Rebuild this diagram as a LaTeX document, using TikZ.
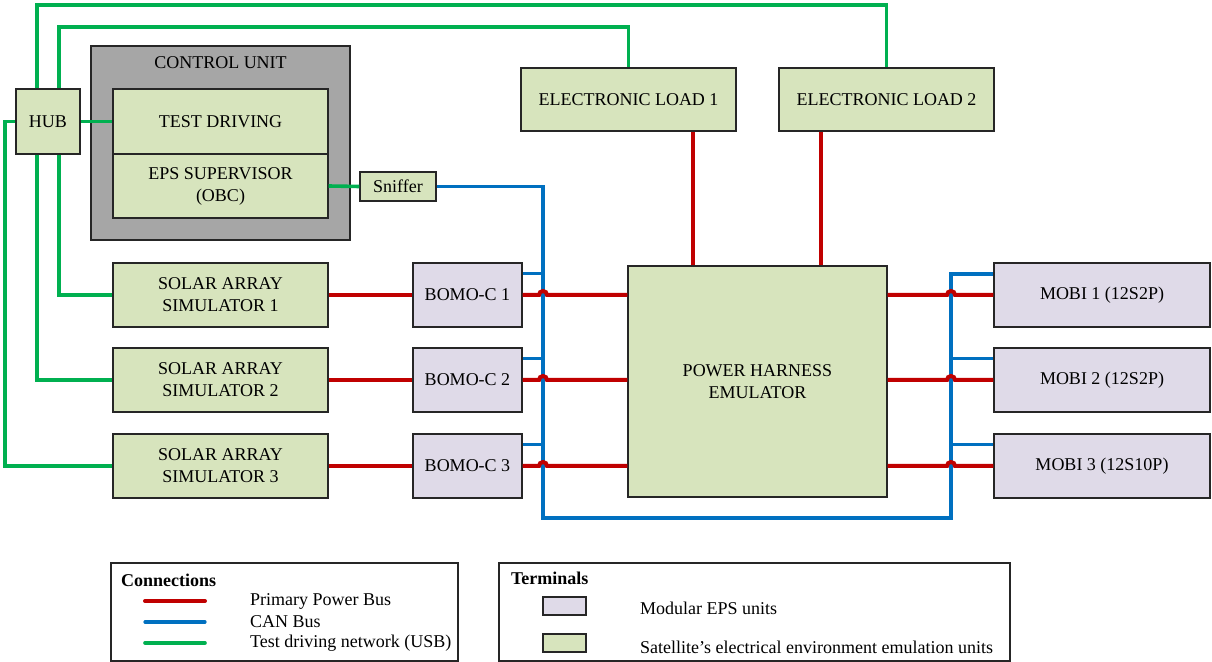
\documentclass[tikz,border=0pt]{standalone}
\usepackage{fontspec}
\setmainfont{Liberation Serif}
\usepackage{tikz}
\usetikzlibrary{positioning, calc}
\usepackage{xcolor}

\definecolor{envgreen}{HTML}{D7E4BD}
\definecolor{modlilac}{HTML}{DFDAE8}
\definecolor{cugray}{HTML}{A6A6A6}
\definecolor{pwrred}{HTML}{C00000}
\definecolor{canblue}{HTML}{0070C0}
\definecolor{usbgreen}{HTML}{00B050}

\tikzset{
  unitbox/.style={draw=black!85, line width=0.6pt, inner sep=0pt, align=center,
                  font=\fontsize{9}{11}\selectfont, minimum width=107.5pt, minimum height=32pt},
  envbox/.style={unitbox, fill=envgreen},
  modbox/.style={unitbox, fill=modlilac},
  power/.style={pwrred, line width=2pt},
  can/.style={canblue, line width=1.6pt},
  usb/.style={usbgreen, line width=1.8pt}
}

\begin{document}
\begin{tikzpicture}[x=0.5pt,y=-0.5pt]
  \useasboundingbox (0,0) rectangle (1212,662);

  % control unit
  \node[draw=black!85, line width=0.7pt, fill=cugray, minimum width=129.5pt, minimum height=97pt] (cu) at (220.5,143) {};
  \node[font=\fontsize{9}{11}\selectfont] at (220.5,63) {CONTROL UNIT};
  \node[envbox, minimum height=32.5pt] (td) at (220.5,121.5) {TEST DRIVING};
  \node[envbox] (eps) at (220.5,186) {EPS SUPERVISOR\\(OBC)};

  \node[envbox, minimum width=32pt, minimum height=32.5pt] (hub) at (48,121.5) {HUB};
  \node[envbox, minimum width=38pt, minimum height=14.5pt] (sniffer) at (398,186.5) {Sniffer};

  \node[envbox, minimum height=31.5pt] (el1) at (628.5,99.5) {ELECTRONIC LOAD 1};
  \node[envbox, minimum height=31.5pt] (el2) at (886.5,99.5) {ELECTRONIC LOAD 2};

  \node[envbox] (sas1) at (220.5,295) {SOLAR ARRAY\\SIMULATOR 1};
  \node[envbox] (sas2) at (220.5,380) {SOLAR ARRAY\\SIMULATOR 2};
  \node[envbox] (sas3) at (220.5,466) {SOLAR ARRAY\\SIMULATOR 3};

  \node[modbox, minimum width=54.5pt] (bomo1) at (467.5,295) {BOMO-C 1};
  \node[modbox, minimum width=54.5pt] (bomo2) at (467.5,380) {BOMO-C 2};
  \node[modbox, minimum width=54.5pt] (bomo3) at (467.5,466) {BOMO-C 3};

  \node[envbox, minimum width=129.5pt, minimum height=115.5pt] (phe) at (757.5,381.5) {POWER HARNESS\\EMULATOR};

  \node[modbox, minimum width=108pt] (mobi1) at (1102,295) {MOBI 1 (12S2P)};
  \node[modbox, minimum width=108pt] (mobi2) at (1102,380) {MOBI 2 (12S2P)};
  \node[modbox, minimum width=108pt] (mobi3) at (1102,466) {MOBI 3 (12S10P)};

  % test driving network
  \coordinate (g1) at (37,5);
  \coordinate (g2) at (59,27);
  \coordinate (g3) at (5,121.5);
  \draw[usb] (hub.north -| g1) -- (g1) -| (el2.north);
  \draw[usb] (hub.north -| g2) -- (g2) -| (el1.north);
  \draw[usb] (hub.south -| g1) |- (sas2.west);
  \draw[usb] (hub.south -| g2) |- (sas1.west);
  \draw[usb] (hub.west) -- (g3) |- (sas3.west);
  \draw[usb] (hub.east) -- (td.west);
  \draw[usb] (eps.east) -- (sniffer.west);

  % CAN bus
  \coordinate (canL) at (543,186.5);
  \coordinate (canLB) at (543,518);
  \coordinate (canRB) at (951,518);
  \coordinate (canR) at (951,274);
  \draw[can] (sniffer.east) -- (canL) -- (canLB) -- (canRB) -- (canR) -- (mobi1.west |- canR);
  \foreach \b in {bomo1,bomo2,bomo3}
    \draw[can] ($(\b.north east)+(0,11)$) -- (canL |- {$(\b.north east)+(0,11)$});
  \foreach \m in {mobi2,mobi3}
    \draw[can] ($(\m.north west)+(0,11)$) -- (canR |- {$(\m.north west)+(0,11)$});

  % primary power bus
  \foreach \i in {1,2,3} {
    \draw[power] (sas\i.east) -- (bomo\i.west);
    \draw[power] (bomo\i.east) -- ($(canL |- bomo\i.east)+(-4,0)$)
      arc[start angle=180, end angle=0, radius=2pt] -- (phe.west |- bomo\i.east);
    \draw[power] (phe.east |- mobi\i.west) -- ($(canR |- mobi\i.west)+(-4,0)$)
      arc[start angle=180, end angle=0, radius=2pt] -- (mobi\i.west);
  }
  \coordinate (p1) at (693,266);
  \coordinate (p2) at (821,266);
  \draw[power] (p1 |- phe.north) -- (p1 |- el1.south);
  \draw[power] (p2 |- phe.north) -- (p2 |- el2.south);

  % legend
  \node[draw=black!85, line width=0.6pt, minimum width=173.5pt, minimum height=49pt] (conleg) at (284.5,612) {};
  \node[font=\fontsize{9}{11}\selectfont\bfseries, anchor=west] at (114,580) {Connections};
  \coordinate (l1) at (145,601);
  \coordinate (l2) at (145,622);
  \coordinate (l3) at (145,643);
  \draw[power, line cap=round] (l1) -- ++(60,0);
  \draw[can, line cap=round] (l2) -- ++(60,0);
  \draw[usb, line cap=round] (l3) -- ++(60,0);
  \node[font=\fontsize{9}{11}\selectfont, anchor=west] at (243,601) {Primary Power Bus};
  \node[font=\fontsize{9}{11}\selectfont, anchor=west] at (243,622) {CAN Bus};
  \node[font=\fontsize{9}{11}\selectfont, anchor=west] at (243,643) {Test driving network (USB)};

  \node[draw=black!85, line width=0.6pt, minimum width=255.5pt, minimum height=49pt] (termleg) at (754.5,612) {};
  \node[font=\fontsize{9}{11}\selectfont\bfseries, anchor=west] at (504,578) {Terminals};
  \node[modbox, minimum width=21.5pt, minimum height=9pt] (swmod) at (564.5,606) {};
  \node[envbox, minimum width=21.5pt, minimum height=9pt] (swenv) at (564.5,643) {};
  \node[font=\fontsize{9}{11}\selectfont, anchor=west] at (633,608) {Modular EPS units};
  \node[font=\fontsize{9}{11}\selectfont, anchor=west] at (633,647) {Satellite’s electrical environment emulation units};
\end{tikzpicture}
\end{document}
